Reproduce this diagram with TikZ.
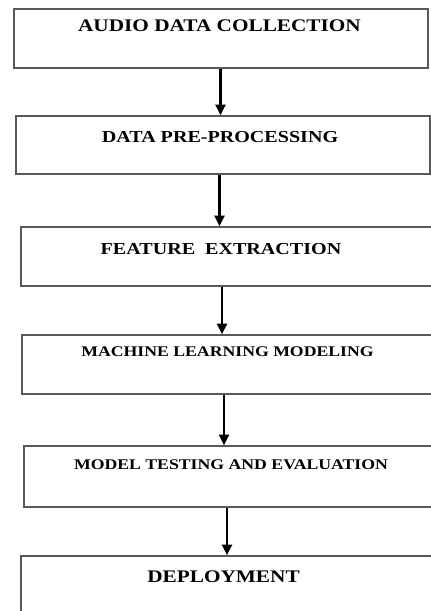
\documentclass[tikz,border=0pt]{standalone}
\usepackage{fontspec}
\newfontfamily\boxfont[FakeStretch=1.2]{Liberation Serif}
\usetikzlibrary{arrows.meta}

\tikzset{
    stage/.style={draw=black!65, line width=1pt, rectangle, inner sep=0pt},
    title/.style={anchor=base, inner sep=0pt},
    titlebig/.style={title, font=\boxfont\bfseries\fontsize{12.6pt}{15pt}\selectfont},
    titlemid/.style={title, font=\boxfont\bfseries\fontsize{11.9pt}{14pt}\selectfont},
    titlesmall/.style={title, font=\boxfont\bfseries\fontsize{10.5pt}{12pt}\selectfont},
    flow/.style={-{Triangle[length=7.5pt,width=7pt]}, line width=1.6pt}
}

\begin{document}
\begin{tikzpicture}[x=0.025cm, y=-0.025cm]
    \useasboundingbox (0,0) rectangle (431,611);
    \fill[white] (0,0) rectangle (431,611);
    \clip (0,0) rectangle (431,611);
    % The six stages, top to bottom.
        \node[stage, minimum width=10.35cm, minimum height=1.475cm] (collect) at (221,38.5) {};
        \node[stage, minimum width=10.35cm, minimum height=1.45cm] (prep) at (223,145) {};
        \node[stage, minimum width=10.6cm, minimum height=1.475cm] (feat) at (233,256.5) {};
        \node[stage, minimum width=10.575cm, minimum height=1.475cm] (model) at (233.5,364.5) {};
        \node[stage, minimum width=10.525cm, minimum height=1.525cm] (test) at (234.5,476.5) {};
        \node[stage, minimum width=10.6cm, minimum height=1.725cm] (deploy) at (233,590.5) {};
    % Below nodes are the stage titles.
        \node[titlebig] (collecttext) at (219.5,32) {AUDIO DATA COLLECTION};
        \node[titlemid] (preptext) at (220,142) {DATA PRE-PROCESSING};
        \node[titlemid] (feattext) at (221,254) {FEATURE\ \ EXTRACTION};
        \node[titlesmall] (modeltext) at (227.5,356) {MACHINE LEARNING MODELING};
        \node[titlesmall] (testtext) at (231,469) {MODEL TESTING AND EVALUATION};
        \node[titlebig] (deploytext) at (223.5,582) {DEPLOYMENT};
    % This draws the arrows between stages.
        \draw[flow] ([shift={(-0.5,0)}]collect.south) -- ([shift={(-2.5,0)}]prep.north);
        \draw[flow] ([shift={(-3.5,0)}]prep.south) -- ([shift={(-13.5,0)}]feat.north);
        \draw[flow] ([shift={(-11,0)}]feat.south) -- ([shift={(-11.5,0)}]model.north);
        \draw[flow] ([shift={(-9.5,0)}]model.south) -- ([shift={(-10.5,0)}]test.north);
        \draw[flow] ([shift={(-7.5,0)}]test.south) -- ([shift={(-6,0)}]deploy.north);
\end{tikzpicture}
\end{document}
